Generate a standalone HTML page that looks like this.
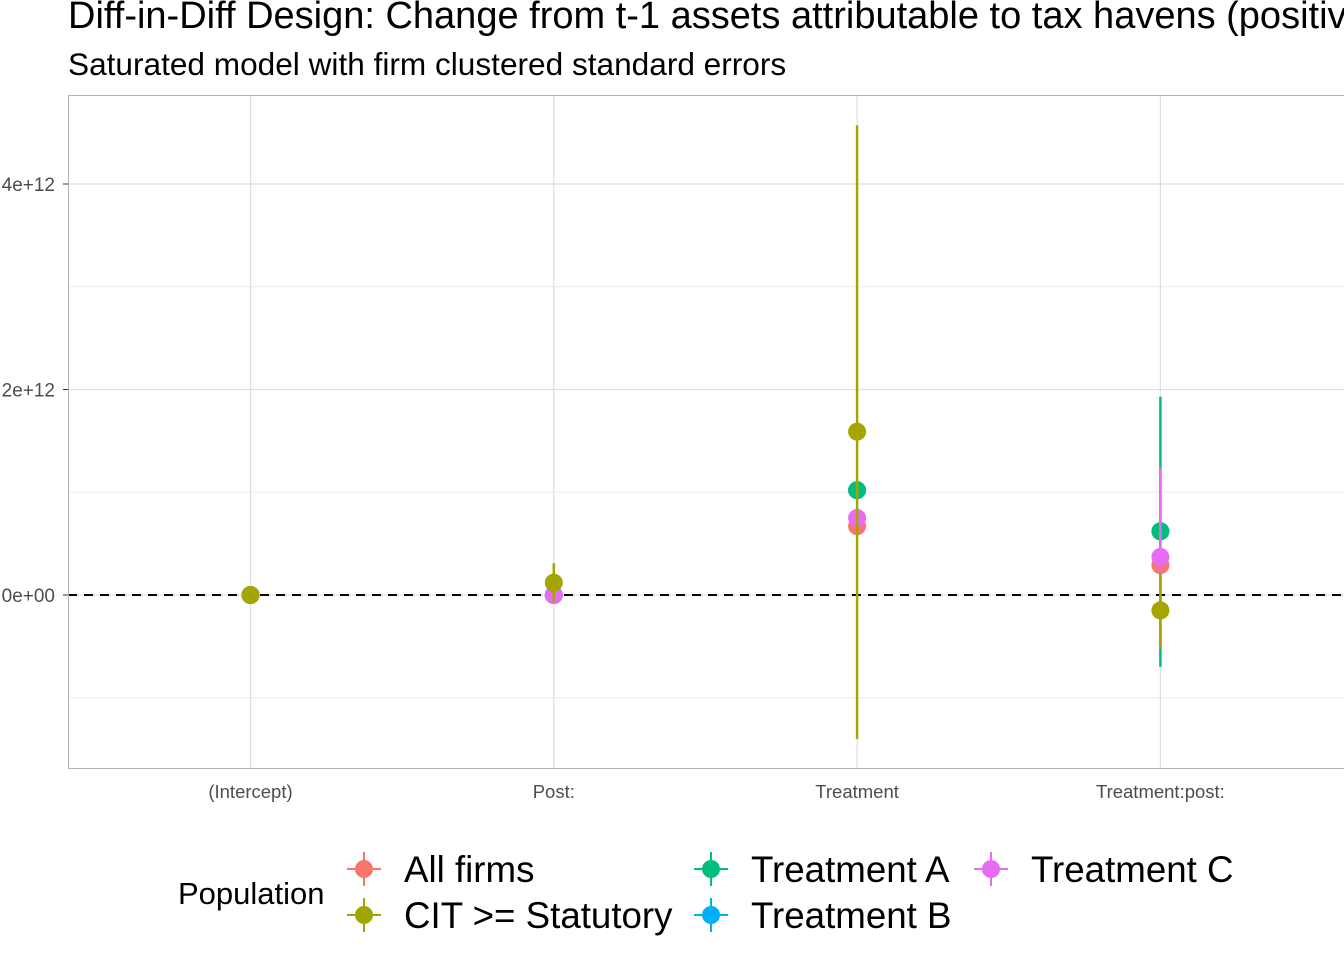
<!DOCTYPE html>
<html><head><meta charset="utf-8"><style>
body{margin:0;background:#fff;width:1344px;height:960px;overflow:hidden;font-family:"Liberation Sans",sans-serif}
</style></head><body>
<svg id="c" width="1344" height="960" style="position:absolute;left:0;top:0;font-family:'Liberation Sans',sans-serif">
<text x="68" y="28" font-size="38" fill="#000">Diff-in-Diff Design: Change from t-1 assets attributable to tax havens (positive)</text>
<text x="68" y="75" font-size="31.6" fill="#000">Saturated model with firm clustered standard errors</text>
<g id="grid"></g>
<g id="marks"></g>
<rect x="68.5" y="95.5" width="1280" height="673" fill="none" stroke="#b3b3b3"/>
<g id="legend"></g>
</svg>
<script>
const categories=["(Intercept)","Post:","Treatment","Treatment:post:"];
const seriesNames=["All firms","CIT >= Statutory","Treatment A","Treatment B","Treatment C"];
const colors=["#F8766D","#A3A500","#00BF7D","#00B0F6","#E76BF3"];
// estimates (units of 1e12)
const allFirms=[0,0,0.67,0.29];
const allFirmsLo=[0,-0.02,0.60,0.20];
const allFirmsHi=[0,0.02,0.74,0.38];
const citStat=[0,0.12,1.59,-0.15];
const citStatLo=[0,-0.07,-1.40,-0.51];
const citStatHi=[0,0.31,4.57,0.21];
const treatA=[0,0,1.02,0.62];
const treatALo=[0,-0.02,0.95,-0.70];
const treatAHi=[0,0.02,1.09,1.93];
const treatB=[0,0,1.02,0.62];
const treatBLo=[0,0,1.02,0.62];
const treatBHi=[0,0,1.02,0.62];
const treatC=[0,0,0.75,0.37];
const treatCLo=[0,-0.02,0.70,-0.50];
const treatCHi=[0,0.02,0.80,1.24];
const yTicks=[0,2,4];
const yTickLabels=["0e+00","2e+12","4e+12"];
const yMinor=[-1,1,3];
const NS="http://www.w3.org/2000/svg";
function y(v){return 595-v*102.75;}
function x(i){return 250.5+i*303.3;}
function mk(t,a,p){const e=document.createElementNS(NS,t);for(const k in a)e.setAttribute(k,a[k]);(p||document.getElementById('marks')).appendChild(e);return e;}
const grid=document.getElementById('grid');
yMinor.forEach(v=>{const l=mk('line',{x1:68,x2:1344,y1:y(v),y2:y(v),stroke:'#ebebeb','stroke-width':1},grid);

});
yTicks.forEach((v,i)=>{const l=mk('line',{x1:68,x2:1344,y1:y(v),y2:y(v),stroke:'#dedede','stroke-width':1.2},grid);


const t=mk('text',{x:55,y:y(v)+7,'font-size':19,fill:'#4d4d4d','text-anchor':'end'},grid);t.textContent=yTickLabels[i];


mk('line',{x1:63,x2:68,y1:y(v),y2:y(v),stroke:'#333'},grid);});
categories.forEach((c,i)=>{const l=mk('line',{x1:x(i),x2:x(i),y1:96,y2:768,stroke:'#dedede','stroke-width':1.2},grid);


const t=mk('text',{x:x(i),y:798,'font-size':18.5,fill:'#4d4d4d','text-anchor':'middle'},grid);t.textContent=c;

});
const zl=mk('line',{x1:68,x2:1344,y1:y(0),y2:y(0),stroke:'#000','stroke-width':2,'stroke-dasharray':'9,7'},grid);


const S=[[allFirms,allFirmsLo,allFirmsHi,0],[treatB,treatBLo,treatBHi,3],[treatA,treatALo,treatAHi,2],[treatC,treatCLo,treatCHi,4],[citStat,citStatLo,citStatHi,1]];
S.forEach(([v,lo,hi,s])=>{v.forEach((val,i)=>{
const l=mk('line',{x1:x(i),x2:x(i),y1:y(hi[i]),y2:y(lo[i]),stroke:colors[s],'stroke-width':2.5});


const p=mk('circle',{cx:x(i),cy:y(val),r:9,fill:colors[s]});

});});
const lg=document.getElementById('legend');
const lt=mk('text',{x:178,y:904,'font-size':31,fill:'#000'},lg);lt.textContent="Population";


const pos=[[364,869],[364,915],[711,869],[711,915],[991,869]];
seriesNames.forEach((n,i)=>{const [kx,ky]=pos[i];
const g=mk('g',{},lg);


mk('line',{x1:kx-17,x2:kx+17,y1:ky,y2:ky,stroke:colors[i],'stroke-width':2},g);
mk('line',{x1:kx,x2:kx,y1:ky-17,y2:ky+17,stroke:colors[i],'stroke-width':2},g);
mk('circle',{cx:kx,cy:ky,r:9,fill:colors[i]},g);
const t=mk('text',{x:kx+40,y:ky+13,'font-size':36.7,fill:'#000'},g);t.textContent=n;});
</script>
</body></html>
